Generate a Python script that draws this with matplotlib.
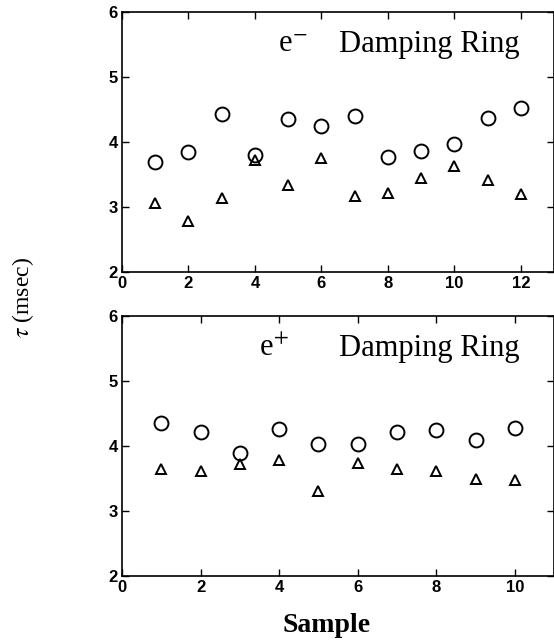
import matplotlib.pyplot as plt

plt.rcParams["mathtext.fontset"] = "stix"

# e- damping ring
em_sample = [1, 2, 3, 4, 5, 6, 7, 8, 9, 10, 11, 12]
em_circle = [3.70, 3.85, 4.43, 3.80, 4.36, 4.24, 4.40, 3.77, 3.86, 3.97, 4.37, 4.53]
em_triangle = [3.06, 2.79, 3.14, 3.72, 3.34, 3.75, 3.17, 3.22, 3.44, 3.63, 3.42, 3.20]

# e+ damping ring
ep_sample = [1, 2, 3, 4, 5, 6, 7, 8, 9, 10]
ep_circle = [4.36, 4.22, 3.89, 4.26, 4.03, 4.03, 4.22, 4.25, 4.09, 4.28]
ep_triangle = [3.64, 3.62, 3.72, 3.79, 3.31, 3.74, 3.64, 3.62, 3.49, 3.48]

SERIF = "Liberation Serif"
TICK_FONT = dict(family="Liberation Sans", weight="bold", size=12)


def style_axes(ax, xmax):
    ax.set_xlim(0, xmax)
    ax.set_ylim(2, 6)
    ax.set_xticks(range(0, xmax, 2))
    ax.set_yticks([2, 3, 4, 5, 6])
    ax.tick_params(direction="in", top=True, right=True, length=5, width=1, pad=3)
    for lab in ax.get_xticklabels() + ax.get_yticklabels():
        lab.set_fontproperties(TICK_FONT)
    for sp in ax.spines.values():
        sp.set_linewidth(1.2)


def panel(ax, x, circ, tri, xmax, charge, charge_x):
    ax.plot(x, circ, "o", ms=10, mfc="none", mec="black", mew=1.4)
    ax.plot(x, tri, "^", ms=7, mfc="none", mec="black", mew=1.4)
    style_axes(ax, xmax)
    ax.text(charge_x, 0.845, charge, transform=ax.transAxes, ha="left", va="baseline",
            family=SERIF, fontsize=22)
    ax.text(0.921, 0.845, "Damping Ring", transform=ax.transAxes, ha="right",
            va="baseline", family=SERIF, fontsize=22)


fig = plt.figure(figsize=(5.54, 6.4), dpi=100)
ax1 = fig.add_axes([0.2202, 0.575, 0.78, 0.406])
ax2 = fig.add_axes([0.2202, 0.100, 0.78, 0.406])

panel(ax1, em_sample, em_circle, em_triangle, 13, r"e$^{-}$", 0.362)
panel(ax2, ep_sample, ep_circle, ep_triangle, 11, r"e$^{+}$", 0.316)

fig.text(0.042, 0.535, r"$\tau$ (msec)", rotation=90, ha="center", va="center",
         family=SERIF, fontsize=17)
fig.text(0.59, 0.022, "Sample", ha="center", va="center",
         family=SERIF, fontsize=20, weight="bold")

fig.savefig("out.png", dpi=100)
